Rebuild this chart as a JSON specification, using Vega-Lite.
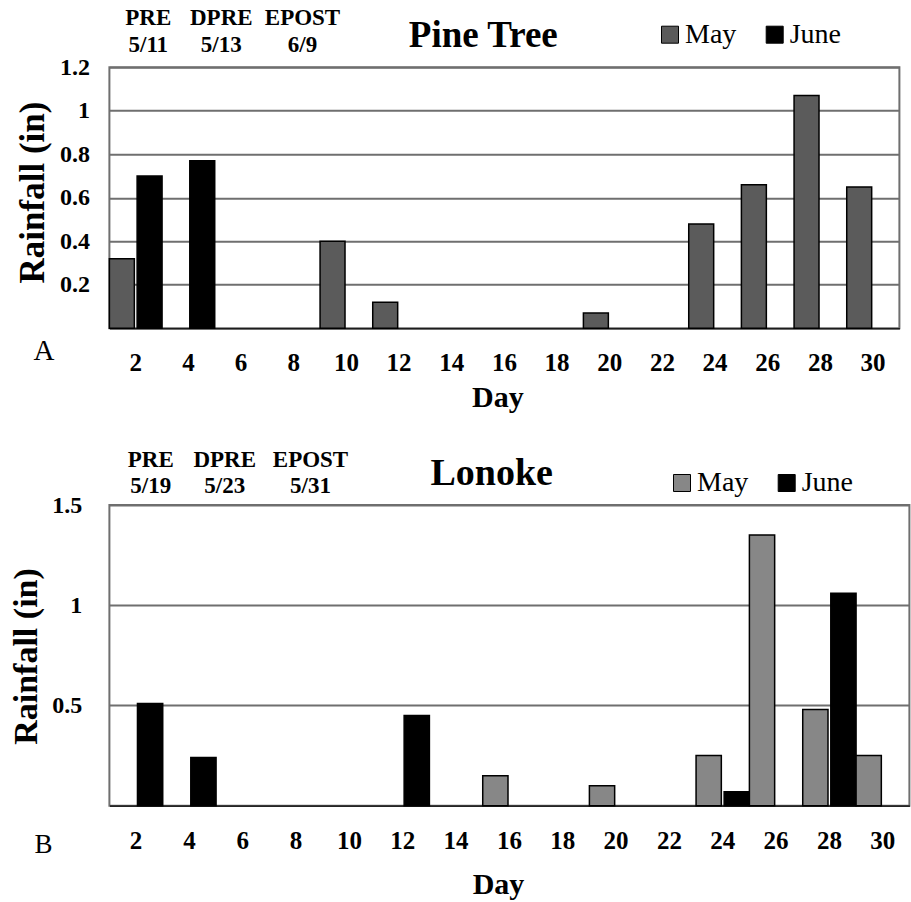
{
  "$schema": "https://vega.github.io/schema/vega-lite/v6.json",
  "autosize": {"type": "none"},
  "padding": {"left": 109.4, "top": 67.3, "right": 801.6, "bottom": 834.7},
  "background": "white",
  "bounds": "flush",
  "spacing": 176.7,
  "config": {
    "font": "Liberation Serif",
    "view": {"stroke": "#6f6f6f", "strokeWidth": 2},
    "axis": {
      "labelFont": "Liberation Serif",
      "titleFont": "Liberation Serif",
      "labelColor": "black",
      "titleColor": "black",
      "ticks": false,
      "tickSize": 0,
      "labelFontWeight": "bold",
      "titleFontWeight": "bold"
    },
    "legend": {
      "orient": "none",
      "direction": "horizontal",
      "symbolType": "square",
      "symbolSize": 289,
      "symbolStrokeColor": "black",
      "symbolStrokeWidth": 1,
      "labelFont": "Liberation Serif",
      "labelFontSize": 28,
      "labelFontWeight": "normal",
      "labelColor": "black",
      "labelOffset": 1,
      "columnPadding": 23.7,
      "padding": 0
    }
  },
  "datasets": {
    "pine": [
      {"Day": 2, "Month": "May", "Rainfall": 0.32},
      {"Day": 2, "Month": "June", "Rainfall": 0.70},
      {"Day": 4, "Month": "June", "Rainfall": 0.77},
      {"Day": 10, "Month": "May", "Rainfall": 0.40},
      {"Day": 12, "Month": "May", "Rainfall": 0.12},
      {"Day": 20, "Month": "May", "Rainfall": 0.07},
      {"Day": 24, "Month": "May", "Rainfall": 0.48},
      {"Day": 26, "Month": "May", "Rainfall": 0.66},
      {"Day": 28, "Month": "May", "Rainfall": 1.07},
      {"Day": 30, "Month": "May", "Rainfall": 0.65}
    ],
    "lonoke": [
      {"Day": 2, "Month": "June", "Rainfall": 0.51},
      {"Day": 4, "Month": "June", "Rainfall": 0.24},
      {"Day": 12, "Month": "June", "Rainfall": 0.45},
      {"Day": 16, "Month": "May", "Rainfall": 0.15},
      {"Day": 20, "Month": "May", "Rainfall": 0.10},
      {"Day": 24, "Month": "May", "Rainfall": 0.25},
      {"Day": 24, "Month": "June", "Rainfall": 0.07},
      {"Day": 26, "Month": "May", "Rainfall": 1.35},
      {"Day": 28, "Month": "May", "Rainfall": 0.48},
      {"Day": 28, "Month": "June", "Rainfall": 1.06},
      {"Day": 30, "Month": "May", "Rainfall": 0.25}
    ]
  },
  "vconcat": [
    {
      "width": 790,
      "height": 261,
      "layer": [
        {
          "data": {"name": "pine"},
          "mark": {"type": "bar", "stroke": "black", "strokeWidth": 1.5},
          "encoding": {
            "x": {
              "field": "Day", "type": "ordinal",
              "scale": {"domain": [2,4,6,8,10,12,14,16,18,20,22,24,26,28,30], "paddingInner": 0, "paddingOuter": 0},
              "axis": {"title": "Day", "labelAngle": 0, "labelFontSize": 25, "labelBaseline": "alphabetic", "labelPadding": 42.4, "domainColor": "black", "domainWidth": 1.2, "grid": false, "titleFontSize": 30, "titleX": 388, "titleY": 78.4, "titleBaseline": "alphabetic", "titleAlign": "center"}
            },
            "xOffset": {"field": "Month", "type": "nominal", "scale": {"domain": ["May", "June"], "paddingInner": 0.1, "paddingOuter": 0}},
            "y": {
              "field": "Rainfall", "type": "quantitative",
              "scale": {"domain": [0, 1.2], "nice": false},
              "axis": {"title": "Rainfall (in)", "values": [0.2, 0.4, 0.6, 0.8, 1, 1.2], "format": "~g", "labelFontSize": 24, "labelPadding": 20, "domain": false, "grid": true, "gridColor": "#6f6f6f", "gridWidth": 2, "titleFontSize": 35, "titleX": -66.4, "titleY": 124.7, "titleBaseline": "alphabetic", "titleAlign": "center", "titleAngle": 270}
            },
            "color": {
              "field": "Month", "type": "nominal",
              "scale": {"domain": ["May", "June"], "range": ["#5b5b5b", "#000000"]},
              "legend": {"title": null, "orient": "none", "legendX": 546.6, "legendY": -46.6, "direction": "horizontal"}
            }
          }
        },
        {
          "data": {"values": [{}]},
          "mark": {"type": "text", "text": "Pine Tree", "font": "Liberation Serif", "fontSize": 37, "fontWeight": "bold", "align": "center", "baseline": "alphabetic", "color": "black"},
          "encoding": {"x": {"value": 373.9}, "y": {"value": -20.6}}
        },
        {
          "data": {"values": [{}]},
          "mark": {"type": "text", "text": ["PRE", "5/11"], "font": "Liberation Serif", "fontSize": 23, "fontWeight": "bold", "align": "center", "baseline": "alphabetic", "lineHeight": 26.7, "color": "black"},
          "encoding": {"x": {"value": 38.9}, "y": {"value": -42.3}}
        },
        {
          "data": {"values": [{}]},
          "mark": {"type": "text", "text": ["DPRE", "5/13"], "font": "Liberation Serif", "fontSize": 23, "fontWeight": "bold", "align": "center", "baseline": "alphabetic", "lineHeight": 26.7, "color": "black"},
          "encoding": {"x": {"value": 111.9}, "y": {"value": -42.3}}
        },
        {
          "data": {"values": [{}]},
          "mark": {"type": "text", "text": ["EPOST", "6/9"], "font": "Liberation Serif", "fontSize": 23, "fontWeight": "bold", "align": "center", "baseline": "alphabetic", "lineHeight": 26.7, "color": "black"},
          "encoding": {"x": {"value": 193.1}, "y": {"value": -42.3}}
        },
        {
          "data": {"values": [{}]},
          "mark": {"type": "text", "text": "A", "font": "Liberation Serif", "fontSize": 29, "fontWeight": "normal", "align": "center", "baseline": "alphabetic", "color": "black"},
          "encoding": {"x": {"value": -65.4}, "y": {"value": 292.7}}
        }
      ]
    },
    {
      "width": 800,
      "height": 300.7,
      "layer": [
        {
          "data": {"name": "lonoke"},
          "mark": {"type": "bar", "stroke": "black", "strokeWidth": 1.5},
          "encoding": {
            "x": {
              "field": "Day", "type": "ordinal",
              "scale": {"domain": [2,4,6,8,10,12,14,16,18,20,22,24,26,28,30], "paddingInner": 0, "paddingOuter": 0},
              "axis": {"title": "Day", "labelAngle": 0, "labelFontSize": 25, "labelBaseline": "alphabetic", "labelPadding": 42.6, "domainColor": "black", "domainWidth": 1.2, "grid": false, "titleFontSize": 30, "titleX": 388.6, "titleY": 87.3, "titleBaseline": "alphabetic", "titleAlign": "center"}
            },
            "xOffset": {"field": "Month", "type": "nominal", "scale": {"domain": ["May", "June"], "paddingInner": 0.1, "paddingOuter": 0}},
            "y": {
              "field": "Rainfall", "type": "quantitative",
              "scale": {"domain": [0, 1.5], "nice": false},
              "axis": {"title": "Rainfall (in)", "values": [0.5, 1, 1.5], "format": "~g", "labelFontSize": 24, "labelPadding": 27.7, "domain": false, "grid": true, "gridColor": "#6f6f6f", "gridWidth": 2, "titleFontSize": 34, "titleX": -73.4, "titleY": 151, "titleBaseline": "alphabetic", "titleAlign": "center", "titleAngle": 270}
            },
            "color": {
              "field": "Month", "type": "nominal",
              "scale": {"domain": ["May", "June"], "range": ["#878787", "#000000"]},
              "legend": {"title": null, "orient": "none", "legendX": 558.6, "legendY": -36, "direction": "horizontal"}
            }
          }
        },
        {
          "data": {"values": [{}]},
          "mark": {"type": "text", "text": "Lonoke", "font": "Liberation Serif", "fontSize": 38, "fontWeight": "bold", "align": "center", "baseline": "alphabetic", "color": "black"},
          "encoding": {"x": {"value": 382.3}, "y": {"value": -20}}
        },
        {
          "data": {"values": [{}]},
          "mark": {"type": "text", "text": ["PRE", "5/19"], "font": "Liberation Serif", "fontSize": 23, "fontWeight": "bold", "align": "center", "baseline": "alphabetic", "lineHeight": 26.3, "color": "black"},
          "encoding": {"x": {"value": 41.4}, "y": {"value": -38.3}}
        },
        {
          "data": {"values": [{}]},
          "mark": {"type": "text", "text": ["DPRE", "5/23"], "font": "Liberation Serif", "fontSize": 23, "fontWeight": "bold", "align": "center", "baseline": "alphabetic", "lineHeight": 26.3, "color": "black"},
          "encoding": {"x": {"value": 115.3}, "y": {"value": -38.3}}
        },
        {
          "data": {"values": [{}]},
          "mark": {"type": "text", "text": ["EPOST", "5/31"], "font": "Liberation Serif", "fontSize": 23, "fontWeight": "bold", "align": "center", "baseline": "alphabetic", "lineHeight": 26.3, "color": "black"},
          "encoding": {"x": {"value": 201.1}, "y": {"value": -38.3}}
        },
        {
          "data": {"values": [{}]},
          "mark": {"type": "text", "text": "B", "font": "Liberation Serif", "fontSize": 27, "fontWeight": "normal", "align": "center", "baseline": "alphabetic", "color": "black"},
          "encoding": {"x": {"value": -66}, "y": {"value": 348}}
        }
      ]
    }
  ],
  "resolve": {
    "scale": {"x": "independent", "y": "independent", "xOffset": "independent", "color": "independent"},
    "legend": {"color": "independent"},
    "axis": {"x": "independent", "y": "independent"}
  }
}
